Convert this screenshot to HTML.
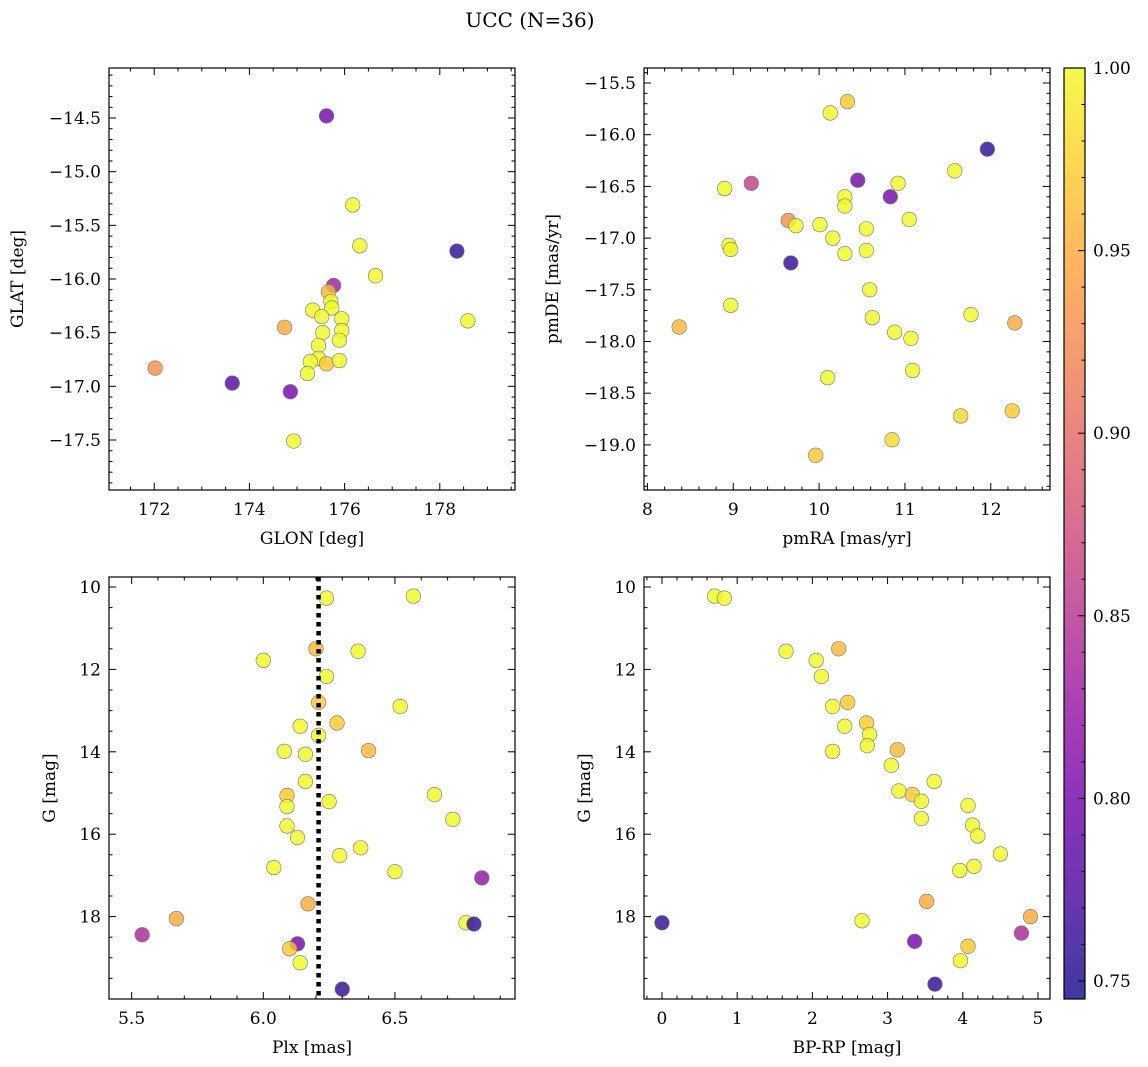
<!DOCTYPE html>
<html><head><meta charset="utf-8">
<style>
html,body{margin:0;padding:0;background:#fff;}
svg{display:block;font-family:"DejaVu Serif","Liberation Serif",serif;}
</style></head>
<body>
<svg id="fig" width="1148" height="1067" viewBox="0 0 1148 1067">
<defs>
<linearGradient id="cmap" x1="0" y1="1" x2="0" y2="0">
<stop offset="0" stop-color="#0d0887"/><stop offset="0.1" stop-color="#41049d"/><stop offset="0.2" stop-color="#6a00a8"/><stop offset="0.3" stop-color="#8f0da4"/><stop offset="0.4" stop-color="#b12a90"/><stop offset="0.5" stop-color="#cc4778"/><stop offset="0.6" stop-color="#e16462"/><stop offset="0.7" stop-color="#f2844b"/><stop offset="0.8" stop-color="#fca636"/><stop offset="0.9" stop-color="#fcce25"/><stop offset="1" stop-color="#f0f921"/>
</linearGradient>
</defs>
<text x="530" y="27" font-size="20" text-anchor="middle">UCC (N=36)</text>
</svg>
<script>
// ---- data ----
const glon=[175.62,176.17,176.32,176.65,178.36,178.59,175.77,175.66,175.71,175.73,175.33,175.52,175.94,175.94,175.89,175.54,175.45,175.45,174.74,175.62,175.89,175.28,175.22,172.02,173.64,174.86,174.93];
const glat=[-14.48,-15.31,-15.69,-15.97,-15.74,-16.39,-16.06,-16.12,-16.21,-16.27,-16.29,-16.35,-16.37,-16.48,-16.57,-16.5,-16.62,-16.74,-16.45,-16.79,-16.76,-16.77,-16.88,-16.83,-16.97,-17.05,-17.51];
const probA=[0.80,1,1,1,0.76,1,0.83,0.96,1,1,1,1,1,1,1,1,1,1,0.95,0.97,1,1,1,0.93,0.78,0.80,1];
const pmra=[10.33,10.13,11.96,11.58,10.92,10.45,10.83,9.21,8.9,10.30,10.30,8.95,8.97,9.64,9.73,10.01,10.16,10.3,10.55,10.55,11.05,9.67,8.37,8.97,10.59,10.62,11.77,10.88,11.07,12.28,10.1,11.09,11.65,12.25,10.85,9.96];
const pmde=[-15.68,-15.79,-16.14,-16.35,-16.47,-16.44,-16.6,-16.47,-16.52,-16.6,-16.69,-17.07,-17.11,-16.83,-16.88,-16.87,-17.0,-17.15,-16.91,-17.12,-16.82,-17.24,-17.86,-17.65,-17.5,-17.77,-17.74,-17.91,-17.97,-17.82,-18.35,-18.28,-18.72,-18.67,-18.95,-19.1];
const probB=[0.97,1,0.76,1,1,0.80,0.80,0.86,1,1,1,1,1,0.93,1,1,1,1,1,1,1,0.76,0.96,1,1,1,1,1,1,0.95,1,1,0.98,0.97,0.98,0.97];
const plx=[6.24,6.57,6.0,6.2,6.36,6.24,6.21,6.52,6.28,6.14,6.21,6.16,6.08,6.4,6.65,6.72,6.16,6.09,6.09,6.25,6.37,6.09,6.13,6.29,6.04,6.5,6.83,6.17,5.67,5.54,6.77,6.8,6.13,6.1,6.14,6.3];
const gmagC=[10.27,10.22,11.78,11.5,11.56,12.17,12.8,12.9,13.3,13.38,13.6,14.06,13.99,13.97,15.04,15.64,14.72,15.06,15.33,15.21,16.33,15.8,16.08,16.52,16.81,16.91,17.06,17.69,18.05,18.44,18.15,18.18,18.66,18.78,19.12,19.76];
const probC=[1,1,1,0.96,1,1,0.97,1,0.97,1,1,1,1,0.96,1,1,1,0.97,1,1,1,1,1,1,1,1,0.82,0.95,0.95,0.84,1,0.76,0.80,0.97,1,0.76];
const bprp=[0.7,0.83,1.65,2.05,2.35,2.12,2.27,2.47,2.43,2.72,2.76,2.27,2.73,3.13,3.05,3.15,3.33,3.62,3.45,3.45,4.07,4.13,4.2,4.5,3.96,4.15,0,2.66,3.52,4.9,4.78,3.36,4.07,3.97,3.63];
const gmagD=[10.22,10.27,11.56,11.78,11.5,12.17,12.9,12.8,13.38,13.3,13.58,13.99,13.85,13.95,14.33,14.95,15.04,14.72,15.2,15.62,15.3,15.78,16.04,16.48,16.88,16.78,18.15,18.1,17.63,18.0,18.4,18.6,18.72,19.07,19.64];
const probD=[1,1,1,1,0.96,1,1,0.97,1,0.97,1,1,1,0.96,1,1,0.97,1,1,1,1,1,1,1,1,1,0.76,1,0.95,0.95,0.84,0.80,0.97,1,0.76];
const plxMean=6.21;
const cbTicks=[0.75,0.80,0.85,0.90,0.95,1.00];

const NS='http://www.w3.org/2000/svg';
const svg=document.getElementById('fig');
const stops=[[13,8,135],[65,4,157],[106,0,168],[143,13,164],[177,42,144],[204,71,120],[225,100,98],[242,132,75],[252,166,54],[252,206,37],[240,249,33]];
const VMIN=0.745,VMAX=1.0;
function cmap(v){let t=(v-VMIN)/(VMAX-VMIN);t=Math.max(0,Math.min(1,t))*10;const i=Math.min(9,Math.floor(t)),f=t-i;const a=stops[i],b=stops[i+1];return 'rgb('+a.map((c,k)=>Math.round(c+(b[k]-c)*f)).join(',')+')';}
function mk(tag,attrs,parent){const e=document.createElementNS(NS,tag);for(const k in attrs)e.setAttribute(k,attrs[k]);(parent||svg).appendChild(e);return e;}
function fmt(v,d){const s=Math.abs(v).toFixed(d);return (v<-1e-9?'\u2212':'')+s;}
const FS=17;

function panel(o){
  const g=mk('g',{});
  
  
  const X=v=>o.x0+(v-o.xd[0])/(o.xd[1]-o.xd[0])*(o.x1-o.x0);
  const Y=v=>o.y0+(v-o.yd[0])/(o.yd[1]-o.yd[0])*(o.y1-o.y0);
  for(let i=0;i<o.xs.length;i++){
    const c=mk('circle',{cx:X(o.xs[i]),cy:Y(o.ys[i]),r:7.3,fill:cmap(o.ps[i]),'fill-opacity':0.8,stroke:'#777','stroke-width':0.6},g);
    
    
  }
  if(o.vline!==undefined){
    const l=mk('line',{x1:X(o.vline),x2:X(o.vline),y1:o.y0,y2:o.y1,stroke:'#000','stroke-width':4.5,'stroke-dasharray':'4.5,4.5'},g);
    
    
  }
  const f=mk('rect',{x:o.x0,y:o.y0,width:o.x1-o.x0,height:o.y1-o.y0,fill:'none',stroke:'#000','stroke-width':1.2},g);
  
  
  const lo=Math.min(...o.xd),hi=Math.max(...o.xd);
  for(let v=Math.ceil(lo/o.xmin-1e-6)*o.xmin;v<=hi+1e-9;v+=o.xmin){
    const px=X(v);const maj=o.xmaj.some(m=>Math.abs(m-v)<1e-6);const L=maj?7:3.5;
    mk('line',{x1:px,x2:px,y1:o.y1,y2:o.y1-L,stroke:'#000','stroke-width':1},g);
    mk('line',{x1:px,x2:px,y1:o.y0,y2:o.y0+L,stroke:'#000','stroke-width':1},g);
  }
  o.xmaj.forEach(v=>{const t=mk('text',{x:X(v),y:o.y1+25,'font-size':FS,'text-anchor':'middle'},g);t.textContent=fmt(v,o.xdec);
    });
  const ylo=Math.min(...o.yd),yhi=Math.max(...o.yd);
  for(let v=Math.ceil(ylo/o.ymin-1e-6)*o.ymin;v<=yhi+1e-9;v+=o.ymin){
    const py=Y(v);const maj=o.ymaj.some(m=>Math.abs(m-v)<1e-6);const L=maj?7:3.5;
    mk('line',{x1:o.x0,x2:o.x0+L,y1:py,y2:py,stroke:'#000','stroke-width':1},g);
    mk('line',{x1:o.x1,x2:o.x1-L,y1:py,y2:py,stroke:'#000','stroke-width':1},g);
  }
  o.ymaj.forEach(v=>{const t=mk('text',{x:o.x0-8,y:Y(v)+6,'font-size':FS,'text-anchor':'end'},g);t.textContent=fmt(v,o.ydec);
    });
  const xl=mk('text',{x:(o.x0+o.x1)/2,y:o.y1+54,'font-size':FS,'text-anchor':'middle'},g);xl.textContent=o.xlab;
  
  const yx=o.x0-o.ylabOff,yy=(o.y0+o.y1)/2;
  const yl=mk('text',{x:yx,y:yy,'font-size':FS,'text-anchor':'middle',transform:'rotate(-90 '+yx+' '+yy+')'},g);yl.textContent=o.ylab;
  
}

panel({name:'glon-glat-panel',x0:109,x1:515,y0:68,y1:490,xd:[171.05,179.58],yd:[-14.034,-17.966],xs:glon,ys:glat,ps:probA,
  xmaj:[172,174,176,178],xmin:0.5,xdec:0,ymaj:[-14.5,-15,-15.5,-16,-16.5,-17,-17.5],ymin:0.1,ydec:1,xlab:'GLON [deg]',ylab:'GLAT [deg]',ylabOff:86});
panel({name:'proper-motion-panel',x0:644,x1:1050,y0:68,y1:490,xd:[7.96,12.69],yd:[-15.355,-19.436],xs:pmra,ys:pmde,ps:probB,
  xmaj:[8,9,10,11,12],xmin:0.2,xdec:0,ymaj:[-15.5,-16,-16.5,-17,-17.5,-18,-18.5,-19],ymin:0.1,ydec:1,xlab:'pmRA [mas/yr]',ylab:'pmDE [mas/yr]',ylabOff:86});
panel({name:'plx-g-panel',x0:109,x1:515,y0:577,y1:999,xd:[5.414,6.956],yd:[9.757,20.0],xs:plx,ys:gmagC,ps:probC,vline:plxMean,
  xmaj:[5.5,6.0,6.5],xmin:0.1,xdec:1,ymaj:[10,12,14,16,18],ymin:0.5,ydec:0,xlab:'Plx [mas]',ylab:'G [mag]',ylabOff:54});
panel({name:'cmd-panel',x0:644,x1:1050,y0:577,y1:999,xd:[-0.239,5.16],yd:[9.757,20.0],xs:bprp,ys:gmagD,ps:probD,
  xmaj:[0,1,2,3,4,5],xmin:0.2,xdec:0,ymaj:[10,12,14,16,18],ymin:0.5,ydec:0,xlab:'BP-RP [mag]',ylab:'G [mag]',ylabOff:54});

// colorbar
const cb=mk('g',{});


const CB={x0:1064,x1:1085,y0:68,y1:999};
const CY=v=>68+(1.0-v)/(1.0-0.75)*(981-68);
const cr=mk('rect',{x:CB.x0,y:CB.y0,width:CB.x1-CB.x0,height:CB.y1-CB.y0,fill:'url(#cmap)','fill-opacity':0.8,stroke:'#000','stroke-width':1.2},cb);


for(let k=75;k<=100;k++){const v=k/100;const L=(k%5===0)?7:3.5;
  mk('line',{x1:CB.x1,x2:CB.x1-L,y1:CY(v),y2:CY(v),stroke:'#000','stroke-width':1},cb);}
cbTicks.forEach(v=>{const t=mk('text',{x:1093,y:CY(v)+6,'font-size':FS},cb);t.textContent=v.toFixed(2);
  });
</script>
</body></html>
